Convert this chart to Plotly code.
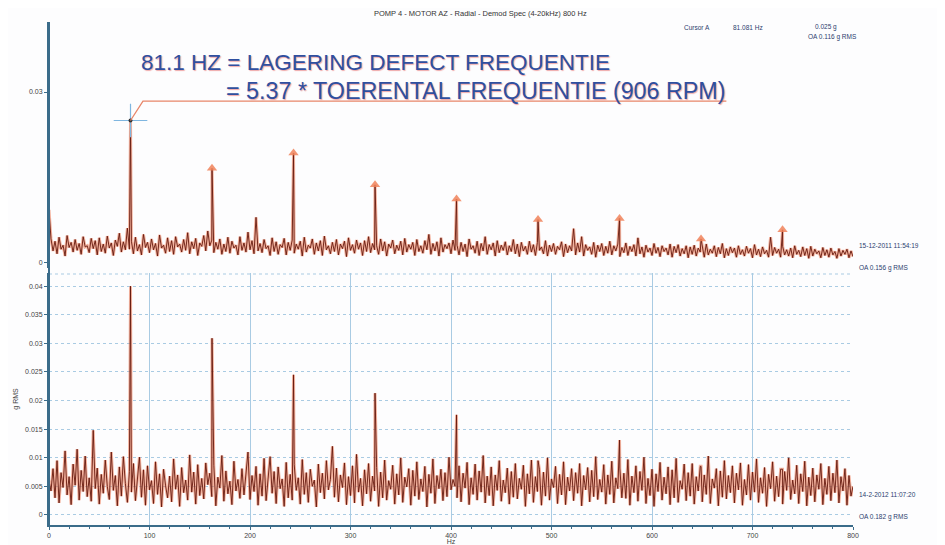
import plotly.graph_objects as go

# ---------------- data (amplitudes in mg, i.e. 0.001 g) ----------------
freq_step_hz = 2  # noise floor sampled every 2 Hz from 0 to 800 Hz

top_noise_mg = [
    9.3, 4.2, 2.1, 3.8, 1.6, 4.5, 2.4, 3.1, 1.2, 4.8, 2.7, 3.6, 1.9, 4.1, 2.2, 3.4, 1.5, 4.6, 2.8, 3.0,
    1.8, 4.3, 2.5, 3.9, 1.4, 4.4, 2.0, 3.3, 1.7, 4.7, 2.6, 3.5, 1.3, 4.0, 2.9, 5.2, 1.9, 3.7, 2.3, 6.1,
    2.4, 3.8, 1.6, 4.5, 2.1, 3.2, 1.4, 5.0, 2.7, 3.6, 1.8, 4.2, 2.3, 3.4, 1.2, 4.9, 2.6, 3.1, 1.7, 4.4,
    2.0, 3.9, 1.5, 4.6, 2.8, 3.3, 1.9, 4.1, 2.2, 5.3, 1.6, 3.7, 2.5, 4.3, 1.3, 3.5, 2.9, 4.8, 2.1, 5.6,
    3.0, 4.0, 1.8, 3.6, 2.4, 4.2, 1.5, 3.3, 2.0, 4.5, 1.7, 3.8, 2.6, 3.1, 1.4, 4.6, 2.2, 3.5, 1.9, 5.4,
    2.3, 3.9, 1.6, 8.0, 2.1, 3.4, 1.8, 4.1, 2.5, 3.0, 1.3, 4.4, 2.0, 3.7, 1.5, 3.2, 2.7, 4.3, 1.4, 3.6,
    2.2, 4.0, 1.7, 3.3, 2.4, 3.8, 1.2, 4.5, 1.9, 3.1, 2.6, 4.2, 1.5, 3.5, 2.1, 3.9, 1.3, 4.7, 2.3, 3.0,
    1.6, 3.6, 2.0, 4.1, 1.4, 3.3, 2.5, 3.8, 1.1, 4.4, 2.2, 3.2, 1.7, 4.0, 2.4, 3.5, 1.3, 3.9, 2.0, 4.6,
    1.8, 3.4, 2.3, 3.0, 1.5, 4.2, 2.1, 3.7, 1.2, 3.3, 2.6, 4.0, 1.6, 3.1, 2.2, 3.8, 1.4, 4.3, 1.9, 3.2,
    2.4, 3.6, 1.3, 4.1, 2.0, 3.0, 1.7, 3.9, 2.3, 5.0, 1.5, 3.4, 2.1, 3.7, 1.2, 4.4, 1.9, 3.2, 2.5, 3.5,
    1.6, 4.0, 2.2, 3.1, 1.4, 3.6, 2.0, 3.3, 1.1, 4.2, 2.4, 3.0, 1.7, 3.8, 1.3, 3.4, 2.1, 4.6, 1.5, 3.2,
    2.3, 3.5, 1.2, 3.9, 1.8, 3.1, 2.2, 3.7, 1.4, 3.0, 2.0, 4.1, 1.6, 3.3, 1.1, 3.6, 2.1, 2.9, 1.5, 3.8,
    1.9, 3.2, 1.3, 3.6, 2.2, 2.8, 1.6, 3.9, 1.2, 3.1, 2.0, 3.4, 1.5, 2.9, 2.3, 3.7, 1.1, 3.3, 1.8, 3.0,
    2.1, 6.0, 1.4, 3.5, 1.9, 4.6, 1.2, 3.2, 2.2, 2.8, 1.5, 3.6, 1.0, 3.1, 2.0, 3.4, 1.3, 2.9, 1.7, 3.8,
    1.4, 3.0, 2.1, 3.3, 1.1, 2.7, 1.8, 3.5, 1.3, 2.9, 2.0, 3.2, 1.2, 4.4, 1.6, 2.8, 1.0, 3.1, 1.9, 2.6,
    1.3, 3.4, 1.7, 2.7, 1.1, 3.0, 2.0, 2.6, 1.4, 3.3, 1.0, 2.9, 1.8, 3.2, 1.2, 2.5, 1.6, 3.0, 0.9, 2.8,
    1.5, 3.1, 1.2, 2.6, 1.9, 2.9, 1.0, 3.3, 1.4, 2.4, 1.7, 3.0, 1.1, 2.7, 1.6, 3.4, 0.9, 2.5, 1.3, 2.8,
    1.8, 2.6, 1.0, 3.0, 1.5, 2.3, 1.2, 2.9, 1.7, 2.5, 0.9, 3.2, 1.4, 2.4, 1.1, 2.8, 1.6, 2.2, 1.0, 4.5,
    1.3, 2.7, 1.7, 2.4, 1.0, 2.9, 1.4, 2.3, 1.2, 2.6, 0.9, 3.0, 1.5, 2.2, 1.1, 2.8, 1.3, 2.5, 0.8, 2.9,
    1.2, 2.4, 1.6, 2.1, 0.9, 2.7, 1.3, 2.3, 1.0, 2.6, 1.4, 2.0, 0.8, 2.5, 1.2, 2.2, 1.5, 2.4, 0.9, 2.1,
    1.1,
]

bottom_noise_mg = [
    6.0, 4.2, 8.1, 3.0, 9.5, 2.1, 7.4, 4.8, 11.2, 3.5, 6.7, 1.8, 8.9, 5.2, 11.5, 2.6, 7.8, 4.1, 10.3, 3.2,
    6.5, 2.4, 14.8, 4.6, 8.2, 1.9, 7.1, 3.8, 9.6, 5.0, 2.7, 11.0, 4.3, 6.9, 1.6, 8.4, 3.3, 10.2, 5.5, 2.2,
    7.6, 4.0, 9.0, 2.5, 6.3, 10.1, 3.1, 7.9, 1.7, 8.6, 4.4, 6.0, 2.0, 9.3, 3.6, 7.2, 1.4, 8.0, 5.1, 3.0,
    6.8, 2.3, 9.8, 4.5, 7.0, 1.5, 8.3, 3.9, 6.1, 2.6, 10.5, 4.0, 7.5, 1.9, 8.8, 3.4, 6.4, 2.8, 9.1, 5.3,
    7.3, 3.2, 8.7, 1.6, 6.6, 4.7, 10.4, 2.4, 7.7, 3.7, 5.9, 1.8, 9.4, 4.2, 6.2, 2.9, 8.1, 3.5, 7.0, 11.0,
    2.7, 6.9, 4.1, 8.5, 1.7, 7.2, 3.3, 9.9, 2.5, 6.0, 10.2, 3.8, 7.6, 2.0, 8.4, 4.6, 6.3, 1.5, 9.2, 3.0,
    7.1, 2.6, 8.8, 4.3, 6.5, 1.9, 9.7, 3.6, 7.4, 2.2, 8.0, 5.0, 6.1, 1.4, 8.9, 3.9, 7.3, 2.8, 9.5, 4.4,
    6.2, 12.0, 3.1, 8.2, 2.3, 7.0, 4.8, 9.1, 1.8, 6.7, 3.4, 8.6, 2.1, 10.6, 4.0, 6.4, 1.6, 7.9, 3.7, 9.0,
    2.4, 6.8, 4.2, 8.3, 1.5, 7.5, 3.0, 9.6, 2.6, 6.0, 4.5, 8.7, 1.9, 7.2, 3.5, 10.0, 2.2, 6.6, 4.9, 8.1,
    1.7, 7.8, 3.3, 9.3, 2.7, 6.3, 4.1, 8.5, 1.4, 7.1, 3.8, 9.8, 2.0, 6.9, 4.6, 8.0, 2.5, 7.4, 3.2, 10.1,
    4.4, 6.2, 5.0, 3.0, 8.6, 2.3, 7.3, 4.7, 9.2, 1.8, 6.5, 3.6, 8.9, 2.6, 7.7, 4.0, 10.4, 2.1, 6.8, 3.4,
    8.4, 1.6, 7.0, 4.3, 9.5, 2.4, 6.1, 3.9, 8.2, 1.9, 7.6, 3.1, 9.0, 2.8, 6.4, 4.5, 8.7, 1.5, 7.2, 3.7,
    9.6, 2.2, 6.7, 4.1, 8.0, 1.7, 7.5, 3.3, 10.0, 2.6, 6.3, 4.8, 8.5, 2.0, 7.1, 3.5, 9.3, 1.8, 6.6, 4.2,
    8.1, 2.5, 7.4, 3.8, 9.0, 1.6, 6.9, 4.4, 8.3, 2.3, 7.8, 3.2, 10.2, 2.7, 6.2, 4.0, 8.8, 1.9, 7.0, 3.6,
    9.4, 2.1, 6.5, 4.6, 8.2, 3.0, 7.3, 2.9, 9.7, 1.7, 6.8, 3.9, 8.6, 2.4, 7.6, 4.3, 10.1, 2.0, 6.4, 3.4,
    8.0, 1.5, 7.2, 4.1, 9.2, 2.6, 6.6, 3.7, 8.4, 1.8, 7.9, 3.0, 9.9, 2.2, 6.0, 4.5, 8.9, 2.5, 7.4, 3.3,
    9.0, 1.9, 6.7, 4.2, 8.5, 2.3, 7.0, 3.6, 10.3, 2.0, 6.3, 4.7, 8.1, 1.6, 7.7, 3.1, 9.5, 2.8, 6.9, 3.9,
    8.6, 2.1, 7.3, 4.4, 9.1, 1.7, 6.2, 3.5, 8.8, 2.6, 7.5, 4.0, 9.8, 2.2, 6.5, 3.8, 8.3, 1.5, 7.1, 4.6,
    9.3, 2.4, 6.8, 3.2, 8.0, 1.9, 7.6, 4.3, 10.0, 2.7, 6.1, 3.7, 8.7, 2.0, 7.2, 4.1, 9.4, 1.6, 6.6, 3.4,
    8.2, 2.3, 7.0, 4.5, 9.0, 1.8, 6.4, 3.6, 8.5, 2.5, 7.3, 3.9, 9.6, 2.1, 6.7, 4.2, 8.1, 1.7, 6.9, 3.3,
    5.0,
]

# bearing defect frequency harmonics (Hz) and peak amplitudes (mg)
harmonic_hz = [81.1, 162.2, 243.3, 324.4, 405.5, 486.6, 567.7, 648.8, 729.9]
top_peak_mg = [25.0, 16.6, 19.3, 13.7, 11.2, 7.6, 7.8, 4.2, 5.8]
bottom_peak_mg = [40.0, 30.9, 24.5, 21.3, 17.5, 9.5, 13.1, 8.5, 8.0]

top_yticks = [0, 0.03]
top_yticklabels = ["0", "0.03"]
bottom_yticks = [0, 0.005, 0.01, 0.015, 0.02, 0.025, 0.03, 0.035, 0.04]
bottom_yticklabels = ["0", "0.005", "0.01", "0.015", "0.02", "0.025", "0.03", "0.035", "0.04"]
xticks = [0, 100, 200, 300, 400, 500, 600, 700, 800]

title_text = "POMP 4 - MOTOR AZ - Radial - Demod Spec (4-20kHz) 800 Hz"
line1 = "81.1 HZ = LAGERING DEFECT FREQUENTIE"
line2 = "= 5.37 * TOERENTAL FREQUENTIE (906 RPM)"


def build_spectrum(noise_mg, peaks_hz, peaks_mg):
    pts = [(i * freq_step_hz, v) for i, v in enumerate(noise_mg)]
    pts += list(zip(peaks_hz, peaks_mg))
    pts.sort(key=lambda p: p[0])
    return [p[0] for p in pts], [p[1] / 1000 for p in pts]


tx, ty = build_spectrum(top_noise_mg, harmonic_hz, top_peak_mg)
bx, by = build_spectrum(bottom_noise_mg, harmonic_hz, bottom_peak_mg)

# ---------------- figure ----------------
# the page body has an 8 px margin, so the figure is placed at (8, 8) in the window
OFF = 8
W, H = 945 - OFF, 545 - OFF
PLOT_L, PLOT_R, PLOT_T, PLOT_B = 49, 853, 22, 525   # target window pixels of the plot area
L, R, T, B = PLOT_L - OFF, W - (PLOT_R - OFF), PLOT_T - OFF, H - (PLOT_B - OFF)
PW, PH = W - L - R, H - T - B


def px(x):
    return (x - OFF - L) / PW


def py(y):
    return (H - B - (y - OFF)) / PH


fig = go.Figure()

halo = "rgba(236,118,80,0.55)"
dark = "#651a0f"
for xs, ys, xa, ya in [(tx, ty, "x2", "y"), (bx, by, "x", "y2")]:
    fig.add_trace(go.Scatter(x=xs, y=ys, xaxis=xa, yaxis=ya, mode="lines",
                             line=dict(color=halo, width=3), hoverinfo="skip", showlegend=False))
    fig.add_trace(go.Scatter(x=xs, y=ys, xaxis=xa, yaxis=ya, mode="lines",
                             line=dict(color=dark, width=0.9), showlegend=False))

# harmonic arrow markers on top spectrum
fig.add_trace(go.Scatter(x=harmonic_hz[1:], y=[v / 1000 for v in top_peak_mg[1:]],
                         xaxis="x2", yaxis="y", mode="markers", showlegend=False,
                         marker=dict(symbol="triangle-up", size=9, color="rgba(240,130,90,0.85)",
                                     line=dict(width=0))))
# cursor crosshair
fig.add_trace(go.Scatter(x=[harmonic_hz[0]], y=[top_peak_mg[0] / 1000], xaxis="x2", yaxis="y",
                         mode="markers", showlegend=False,
                         marker=dict(symbol="cross-thin", size=24,
                                     line=dict(color="#7fb6e0", width=1.2))))
fig.add_trace(go.Scatter(x=[harmonic_hz[0]], y=[top_peak_mg[0] / 1000], xaxis="x2", yaxis="y",
                         mode="markers", showlegend=False,
                         marker=dict(symbol="circle", size=4, color="#333")))

axis_col = "#3b6c8a"
grid_col = "#a9cbe3"
fig.update_layout(
    width=W, height=H,
    margin=dict(l=L, r=R, t=T, b=B, autoexpand=False),
    paper_bgcolor="#fdfdfe", plot_bgcolor="#fdfdfe",
    font=dict(family="Liberation Sans, Arial, sans-serif", size=7, color="#444"),
    xaxis=dict(range=[0, 800], tickvals=xticks, showgrid=True, gridcolor=grid_col, gridwidth=1,
               showline=True, linecolor=axis_col, linewidth=1.5, ticks="outside", ticklen=3,
               tickcolor=axis_col, zeroline=False, anchor="y2", automargin=False,
               title=dict(text="Hz", font=dict(size=7), standoff=0),
               minor=dict(ticks="outside", ticklen=2, tickcolor=axis_col, dtick=20, showgrid=False)),
    xaxis2=dict(range=[0, 800], matches="x", anchor="y", showgrid=False, showticklabels=False,
                showline=False, zeroline=False, ticks="", automargin=False),
    yaxis=dict(domain=[py(268), 1], range=[-0.0009, 0.0423], tickvals=top_yticks,
               ticktext=top_yticklabels, showgrid=False, zeroline=False, showline=True,
               linecolor=axis_col, linewidth=2, ticks="outside", ticklen=3, tickcolor=axis_col,
               anchor="x2", automargin=False),
    yaxis2=dict(domain=[0, py(273)], range=[-0.00175, 0.0423], tickvals=bottom_yticks,
                ticktext=bottom_yticklabels, showgrid=True, gridcolor=grid_col, griddash="dot",
                zeroline=False, showline=True, linecolor=axis_col, linewidth=2, ticks="outside",
                ticklen=3, tickcolor=axis_col, anchor="x", automargin=False,
                title=dict(text="g RMS", font=dict(size=7), standoff=6)),
)

# dotted border at top of bottom panel
fig.add_shape(type="line", xref="paper", yref="paper", x0=0, x1=1, y0=py(274), y1=py(274),
              line=dict(color=grid_col, width=1, dash="dot"))
# continuous y-axis line
fig.add_shape(type="line", xref="paper", yref="paper", x0=0, x1=0, y0=0, y1=1,
              line=dict(color=axis_col, width=2))
# orange leader from cursor to annotation text
fig.add_shape(type="path", xref="x2", yref="y",
              path=f"M {harmonic_hz[0]},{top_peak_mg[0] / 1000} L 93.5,0.0284 L 674,0.0284",
              line=dict(color="#e8866a", width=1.3))

navy = "#2c3d6e"
big1 = dict(family="Liberation Sans, Arial, sans-serif", size=22.5, color="#2f4f9f",
            shadow="1px 1px 1px rgba(230,110,110,0.6)")
big2 = dict(big1, size=23.3)
ann = [
    dict(text=title_text, x=px(480), y=py(13), xanchor="center", font=dict(size=7.5, color="#333")),
    dict(text="Cursor A", x=px(697), y=py(27), xanchor="center", font=dict(size=6.5, color=navy)),
    dict(text="81.081 Hz", x=px(748), y=py(27), xanchor="center", font=dict(size=6.5, color=navy)),
    dict(text="0.025 g", x=px(826), y=py(27), xanchor="center", font=dict(size=6.5, color=navy)),
    dict(text="OA 0.116 g RMS", x=px(832), y=py(37), xanchor="center", font=dict(size=6.5, color=navy)),
    dict(text=line1, x=px(139), y=py(62), xanchor="left", font=big1),
    dict(text=line2, x=px(224), y=py(91), xanchor="left", font=big2),
    dict(text="15-12-2011 11:54:19", x=px(857), y=py(245), xanchor="left", font=dict(size=6.5, color=navy)),
    dict(text="OA 0.156 g RMS", x=px(857), y=py(268), xanchor="left", font=dict(size=6.5, color=navy)),
    dict(text="14-2-2012 11:07:20", x=px(857), y=py(494), xanchor="left", font=dict(size=6.5, color=navy)),
    dict(text="OA 0.182 g RMS", x=px(857), y=py(517), xanchor="left", font=dict(size=6.5, color=navy)),
]
for a in ann:
    fig.add_annotation(xref="paper", yref="paper", yanchor="middle", showarrow=False, **a)

fig.write_html("out.html")
